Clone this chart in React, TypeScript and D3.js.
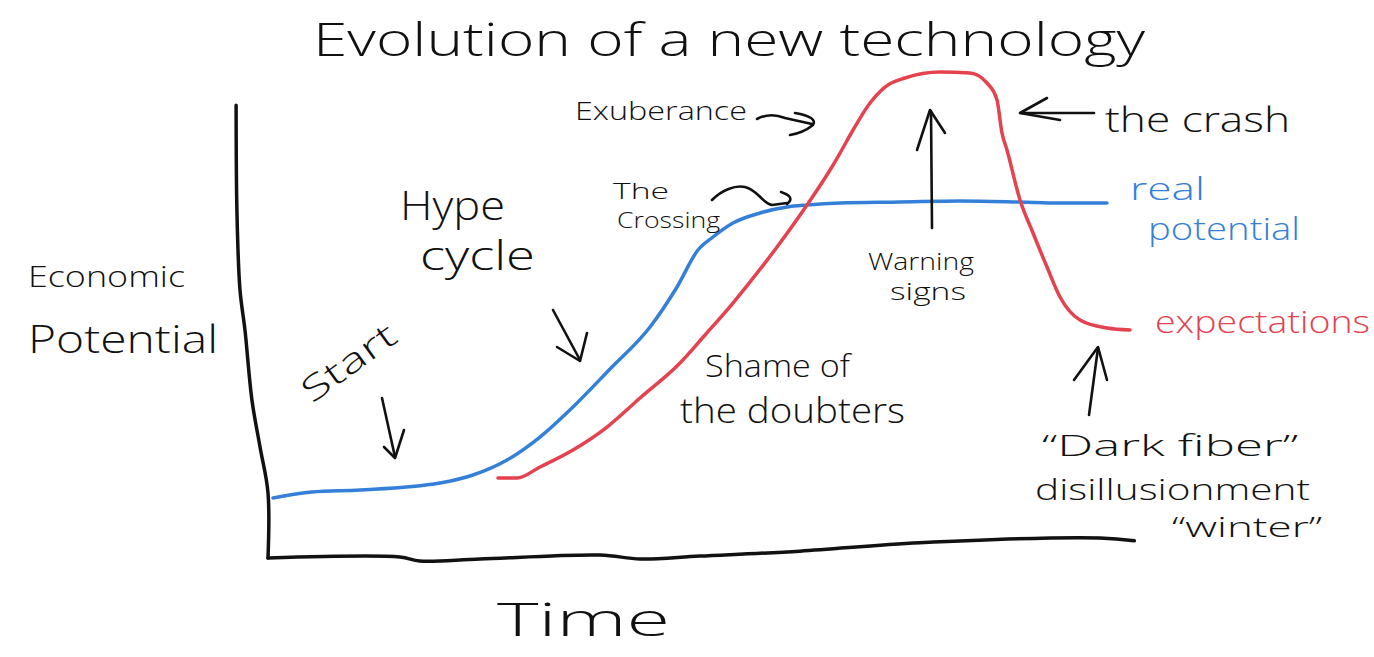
import React from "react";
import * as d3 from "d3";

// ---- Data (time 0..100, economic potential 0..100) ----
const realTime = [0.58, 5.1, 10.67, 19.95, 23.78, 27.73, 31.55, 35.38, 39.68, 44.32, 47.45, 49.88, 51.62, 53.94, 57.08, 60.21, 62.53, 66.36, 73.32, 80.28, 87.24, 91.88, 97.33];
const realValue = [12.24, 13.47, 13.88, 15.31, 16.94, 20.0, 24.69, 30.82, 38.57, 47.14, 55.31, 62.86, 65.51, 68.37, 70.41, 71.63, 72.04, 72.45, 72.65, 72.86, 72.65, 72.45, 72.45];

const expTime = [26.68, 28.89, 31.55, 35.38, 39.33, 43.16, 47.8, 50.7, 53.94, 59.05, 62.53, 65.2, 66.36, 67.87, 69.84, 71.58, 73.9, 77.96, 81.44, 83.41, 84.57, 85.15, 85.73, 87.24, 88.75, 90.37, 91.88, 94.2, 97.33, 100.0];
const expValue = [16.33, 16.33, 18.57, 22.04, 26.73, 32.65, 39.8, 45.51, 52.04, 63.47, 72.04, 79.18, 82.65, 87.35, 92.86, 96.12, 97.96, 99.18, 98.98, 96.94, 93.47, 86.73, 83.27, 73.06, 66.33, 59.39, 53.27, 48.57, 46.94, 46.53];

// hand-drawn axis wobble
const yAxisTime = [-3.7, -3.6, -3.25, -2.67, -1.86, -0.93, 0, 0];
const yAxisValue = [92.4, 70.4, 54.7, 46.5, 32.2, 22.7, 13.3, 0];
const xAxisTime = [0, 15.3, 17.6, 24.6, 38.5, 43.2, 50.1, 61.7, 75.6, 96.5, 100.5];
const xAxisValue = [0, 0.2, -0.6, -0.2, 0.6, -0.2, 0.4, 1.4, 3.1, 4.1, 3.5];

const W = 1374;
const H = 657;
const BLUE = "#3480d8";
const RED = "#e5424f";
const INK = "#111";
const FONT = "'Open Sans', 'DejaVu Sans', sans-serif";

const x = d3.scaleLinear().domain([0, 100]).range([268, 1130]);
const y = d3.scaleLinear().domain([0, 100]).range([558, 68]);

type P = [number, number];
const zip = (a: number[], b: number[]): P[] => a.map((t, i) => [t, b[i]]);

const axisLine = d3
  .line<P>()
  .x((d) => x(d[0]))
  .y((d) => y(d[1]))
  .curve(d3.curveCatmullRom.alpha(0.5));

const seriesLine = d3
  .line<P>()
  .x((d) => x(d[0]))
  .y((d) => y(d[1]))
  .curve(d3.curveMonotoneX);

interface Lbl {
  text: string;
  x: number;
  y: number;
  w: number;
  size: number;
  color?: string;
  rotate?: number;
}

const labels: Lbl[] = [
  { text: "Evolution of a new technology", x: 313, y: 56, w: 832, size: 46 },
  { text: "Exuberance", x: 575, y: 120, w: 172, size: 26 },
  { text: "the crash", x: 1105, y: 132, w: 185, size: 34 },
  { text: "Hype", x: 400, y: 220, w: 105, size: 40 },
  { text: "cycle", x: 420, y: 270, w: 115, size: 40 },
  { text: "The", x: 613, y: 199, w: 56, size: 22 },
  { text: "Crossing", x: 617, y: 228, w: 103, size: 22 },
  { text: "Economic", x: 28, y: 287, w: 157, size: 30 },
  { text: "Potential", x: 28, y: 353, w: 190, size: 38 },
  { text: "Start", x: 312, y: 404, w: 108, size: 34, rotate: -36 },
  { text: "Warning", x: 868, y: 270, w: 106, size: 24 },
  { text: "signs", x: 890, y: 300, w: 76, size: 24 },
  { text: "real", x: 1130, y: 200, w: 75, size: 32, color: BLUE },
  { text: "potential", x: 1148, y: 240, w: 152, size: 32, color: BLUE },
  { text: "expectations", x: 1155, y: 333, w: 215, size: 32, color: RED },
  { text: "Shame of", x: 705, y: 377, w: 145, size: 32 },
  { text: "the doubters", x: 680, y: 423, w: 225, size: 34 },
  { text: "\u201CDark fiber\u201D", x: 1042, y: 456, w: 256, size: 30 },
  { text: "disillusionment", x: 1035, y: 500, w: 275, size: 30 },
  { text: "\u201Cwinter\u201D", x: 1172, y: 537, w: 150, size: 28 },
  { text: "Time", x: 497, y: 636, w: 173, size: 46 },
];

const arrows: string[] = [
  // Exuberance ~>
  "M757,119 Q770,112 785,118 L812,124",
  "M795,113 Q818,117 813,125 Q803,133 790,135",
  // the crash <-
  "M1094,113 L1021,113",
  "M1047,98 L1020,113 L1060,120",
  // warning signs up arrow
  "M932,228 L931,111",
  "M917,150 L930,110 L945,133",
  // crossing curved arrow
  "M712,200 C722,190 735,185 745,187 C758,190 762,203 772,205 L787,203",
  "M781,192 Q796,197 787,204",
  // start arrow
  "M382,398 L395,457",
  "M384,447 L395,458 L404,430",
  // hype cycle arrow
  "M553,310 L580,360",
  "M557,347 L580,361 L587,333",
  // dark fiber arrow
  "M1089,415 L1098,348",
  "M1074,380 L1098,347 L1107,380",
];

export default function App() {
  const yAxisPath = axisLine(zip(yAxisTime, yAxisValue)) ?? "";
  const xAxisPath = axisLine(zip(xAxisTime, xAxisValue)) ?? "";
  const realPath = seriesLine(zip(realTime, realValue)) ?? "";
  const expPath = seriesLine(zip(expTime, expValue)) ?? "";

  return (
    <svg
      width={W}
      height={H}
      viewBox={`0 0 ${W} ${H}`}
      style={{ position: "absolute", left: 0, top: 0, background: "#fff" }}
    >
      <rect x={0} y={0} width={W} height={H} fill="#fff" />
      <path d={yAxisPath} fill="none" stroke={INK} strokeWidth={3.5} strokeLinecap="round" />
      <path d={xAxisPath} fill="none" stroke={INK} strokeWidth={3.5} strokeLinecap="round" />
      <path d={realPath} fill="none" stroke={BLUE} strokeWidth={3.5} strokeLinecap="round" strokeLinejoin="round" />
      <path d={expPath} fill="none" stroke={RED} strokeWidth={3.5} strokeLinecap="round" strokeLinejoin="round" />
      {arrows.map((d, i) => (
        <path key={i} d={d} fill="none" stroke={INK} strokeWidth={2.6} strokeLinecap="round" strokeLinejoin="round" />
      ))}
      {labels.map((l, i) => (
        <text
          key={i}
          x={l.x}
          y={l.y}
          fontFamily={FONT}
          fontWeight={300}
          fontSize={l.size}
          fill={l.color ?? INK}
          textLength={l.w}
          lengthAdjust="spacingAndGlyphs"
          transform={l.rotate ? `rotate(${l.rotate} ${l.x} ${l.y})` : undefined}
        >
          {l.text}
        </text>
      ))}
    </svg>
  );
}
